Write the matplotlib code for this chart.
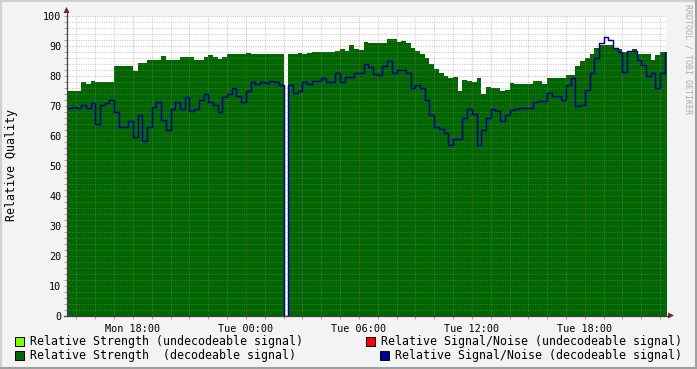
import numpy as np
import matplotlib.pyplot as plt
from matplotlib.lines import Line2D
from matplotlib.patches import Polygon, Rectangle

plt.rcParams['font.family'] = ['DejaVu Sans Mono']

# samples every 15 minutes, starting Mon 14:30 (hours since start)
step_h = 0.25

# relative strength (decodeable signal), 0 = no data
strength = [75, 75, 75, 78, 77.5, 78.5, 78, 78, 78, 78,
            83.3, 83.3, 83.3, 83.3, 81.8, 84.2, 84.2, 85.3, 85.3, 85.3,
            86.8, 85.3, 85.3, 85.3, 86.2, 86.2, 86.2, 85.3, 85.3, 86.5,
            87, 86.5, 85.8, 86.2, 87.3, 87.5, 87.5, 87.5, 87.6, 87.5,
            87.5, 87.5, 87.5, 87.5, 87.5, 87.5, 0, 87.3, 87.5, 87.8,
            87.5, 87.6, 88.1, 88.1, 88.1, 88.1, 88.1, 88.5, 89, 88.5,
            90.3, 89, 88.8, 91.2, 91.1, 91.1, 91, 91.1, 92.3, 92.3,
            91.5, 91.7, 91, 89.5, 88.5, 87.5, 86, 84, 82.5, 81,
            80, 79.5, 79.8, 75, 78.7, 78.5, 78, 79.5, 74, 76.5,
            76, 76, 75, 75.5, 77.8, 77.5, 77.5, 77.5, 77.5, 78.4,
            78.4, 77.5, 79.4, 79.4, 79.4, 79.4, 80.3, 80.3, 83.3, 85.1,
            86, 87.5, 89.2, 90.3, 90.3, 90.3, 89, 89, 88, 88,
            89, 87.3, 87.3, 87.3, 85.3, 87, 88.1, 88.1]

# relative signal/noise (decodeable signal)
snr = [69.5, 69.7, 69.5, 70.5, 69.5, 71, 64, 70.3, 71, 72,
       68, 63, 63, 65, 59.8, 67, 58.5, 63, 69.8, 71.5,
       65.3, 62, 69, 71.5, 69, 73, 68.5, 69, 72, 74,
       71.5, 70.5, 68, 73, 74, 75.9, 73.5, 71.3, 75, 77.9,
       77.5, 78, 77.8, 78.5, 78.1, 77, 0, 77, 74.5, 75,
       78, 77.5, 78.4, 78.4, 79.2, 78, 78, 81, 78, 79.8,
       79.8, 81, 81, 84, 83, 80.7, 80.5, 83.5, 85, 81,
       82, 82, 81, 76, 77, 76, 72, 67, 63, 62.5,
       61, 57, 59, 59, 66, 69, 67.5, 57, 62, 66,
       69, 68.5, 65, 67, 68.8, 69, 69.5, 69.5, 69.5, 71.4,
       71.8, 71.8, 74.2, 73.5, 73.5, 72, 77, 79.2, 70, 70.5,
       75.3, 80.9, 86, 90.9, 93.1, 92, 89.2, 88.1, 81.4, 88.5,
       88.5, 85.5, 83.6, 80, 81, 75.9, 81, 88.1]

tick_hours = [3.5, 9.5, 15.5, 21.5, 27.5]
tick_labels = ['Mon 18:00', 'Tue 00:00', 'Tue 06:00', 'Tue 12:00', 'Tue 18:00']

legend_labels = ['Relative Strength (undecodeable signal)',
                 'Relative Signal/Noise (undecodeable signal)',
                 'Relative Strength  (decodeable signal)',
                 'Relative Signal/Noise (decodeable signal)']
legend_colors = ['#80FF00', '#FF0000', '#006600', '#000099']

W, H = 697, 369


def fx(x):
    return x / W


def fy(y):
    return 1 - y / H


fig = plt.figure(figsize=(W / 100, H / 100), dpi=100, facecolor='#F3F3F3')
ax = fig.add_axes([fx(67), fy(316), (666 - 67) / W, 300 / H])
ax.set_facecolor('white')

t = np.arange(len(strength) + 1) * step_h
g = np.array(strength + [strength[-1]])
s = np.array(snr + [snr[-1]])

ax.fill_between(t, g, step='post', color='#006600', lw=0, zorder=1)
ax.step(t, s, where='post', color='#00008F', lw=1.05, zorder=3)

ax.set_xlim(0, 599 / 18.83)
ax.set_ylim(0, 100)

ax.set_yticks(range(0, 101, 10))
ax.set_yticks(range(0, 101, 2), minor=True)
ax.set_xticks(tick_hours)
ax.set_xticklabels(tick_labels)
ax.set_xticks(np.arange(0.5, 32, 1.0), minor=True)

ax.set_axisbelow(False)
ax.grid(which='minor', color='#8F8F8F', alpha=0.45, lw=0.75, ls=(0, (1, 1.2)))
ax.grid(which='major', color='#DE4F4F', alpha=0.45, lw=0.75, ls=(0, (1, 1.2)))

ax.tick_params(axis='both', which='both', length=2, width=0.7, labelsize=7.3,
               labelcolor='black', pad=2)
ax.tick_params(axis='both', which='major', color='#DE8F8F')
ax.tick_params(axis='both', which='minor', color='#A0A0A0')
ax.tick_params(axis='x', pad=4)

for sp in ax.spines.values():
    sp.set_visible(False)

# axes with arrows
axis_c = '#404040'
arrow_c = '#801F1F'
fig.add_artist(Line2D([fx(66.5), fx(66.5)], [fy(316), fy(10)], color=axis_c, lw=0.9))
fig.add_artist(Line2D([fx(64), fx(670)], [fy(315.5), fy(315.5)], color=axis_c, lw=0.9))
fig.add_artist(Polygon([(fx(63.5), fy(13)), (fx(69.5), fy(13)), (fx(66.5), fy(7))],
                       closed=True, color=arrow_c, lw=0))
fig.add_artist(Polygon([(fx(668), fy(312.5)), (fx(668), fy(318.5)), (fx(674), fy(315.5))],
                       closed=True, color=arrow_c, lw=0))

fig.text(fx(12), fy(165), 'Relative Quality', rotation=90, ha='center', va='center',
         fontsize=8.4)
fig.text(fx(688), fy(4), 'RRDTOOL / TOBI OETIKER', rotation=270, ha='center', va='top',
         fontsize=6, color='#ABABAB')

# legend
legend_pos = [(15, 341), (366, 341), (15, 355), (380, 355)]
for (lx, ly), lab, col in zip(legend_pos, legend_labels, legend_colors):
    fig.add_artist(Rectangle((fx(lx), fy(ly + 4.5)), 9 / W, 9 / H, facecolor=col,
                             edgecolor='black', lw=0.7))
    fig.text(fx(lx + 15), fy(ly), lab, ha='left', va='center', fontsize=8.4)

# frame shading
fig.add_artist(Line2D([0, 1], [fy(1), fy(1)], color='#CFCFCF', lw=1.5))
fig.add_artist(Line2D([fx(1), fx(1)], [0, 1], color='#CFCFCF', lw=1.5))
fig.add_artist(Line2D([0, 1], [fy(368), fy(368)], color='#9E9E9E', lw=1.5))
fig.add_artist(Line2D([fx(696), fx(696)], [0, 1], color='#9E9E9E', lw=1.5))

fig.savefig('out.png', dpi=100, facecolor=fig.get_facecolor())
